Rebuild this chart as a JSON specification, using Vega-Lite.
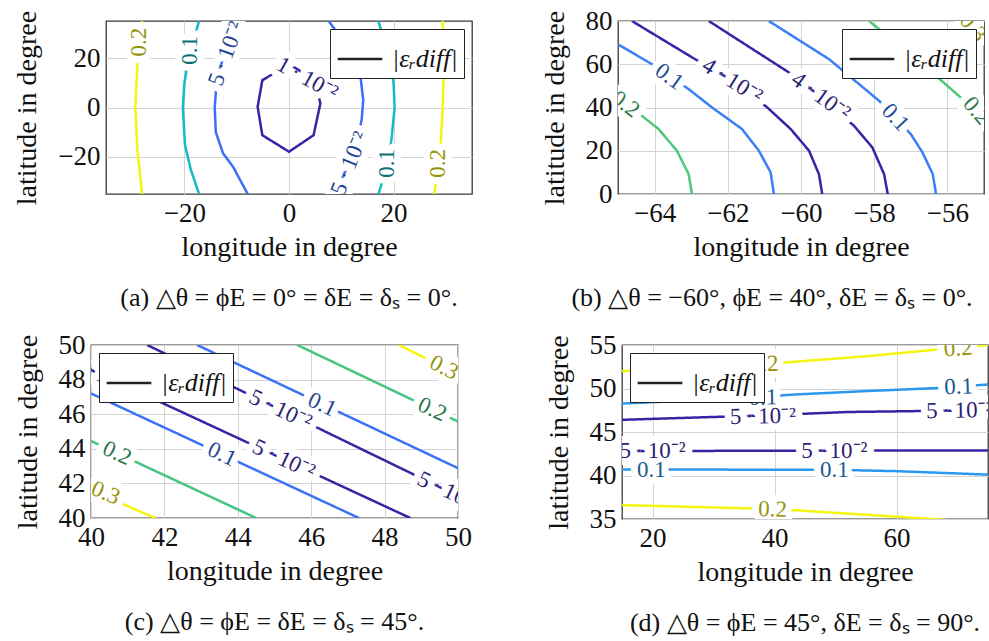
{
  "$schema": "https://vega.github.io/schema/vega-lite/v6.json",
  "padding": {"left": 12, "top": 6, "right": 0, "bottom": 0},
  "config": {
    "font": "Liberation Serif",
    "view": {"stroke": "#3a3a3a", "strokeWidth": 1.3},
    "axis": {"labelFont": "Liberation Serif", "labelFontSize": 27, "labelColor": "#111", "titleFont": "Liberation Serif", "titleFontSize": 28, "titleFontWeight": "normal", "titleColor": "#111", "grid": true, "gridColor": "#d3d3d3", "gridWidth": 1, "domain": false, "ticks": false, "labelPadding": 6, "titlePadding": 8, "labelFlush": false, "labelOverlap": false},
    "axisX": {"labelPadding": 6, "titlePadding": 7},
    "axisY": {"titlePadding": 16, "labelOverlap": false},
    "title": {"font": "Liberation Serif", "fontSize": 26, "fontWeight": "normal", "color": "#111", "orient": "bottom", "anchor": "middle", "offset": 24},
    "legend": {"title": null, "symbolType": "stroke", "symbolStrokeColor": "#222", "symbolStrokeWidth": 2.5, "symbolSize": 2000, "labelFont": "Liberation Serif", "labelFontSize": 26, "labelFontStyle": "italic", "labelColor": "#111", "strokeColor": "#222", "fillColor": "white", "padding": 6, "labelOffset": 8, "offset": 8}
  },
  "datasets": {
    "a_lines": [
      {"line": "a1", "i": 0, "lon": -28.1, "lat": 35, "level": 0.2},
      {"line": "a1", "i": 1, "lon": -29.0, "lat": 17, "level": 0.2},
      {"line": "a1", "i": 2, "lon": -29.4, "lat": 0, "level": 0.2},
      {"line": "a1", "i": 3, "lon": -29.0, "lat": -17, "level": 0.2},
      {"line": "a1", "i": 4, "lon": -28.1, "lat": -35, "level": 0.2},
      {"line": "a2", "i": 0, "lon": 29.4, "lat": 35, "level": 0.2},
      {"line": "a2", "i": 1, "lon": 29.6, "lat": 15, "level": 0.2},
      {"line": "a2", "i": 2, "lon": 29.4, "lat": 0, "level": 0.2},
      {"line": "a2", "i": 3, "lon": 29.0, "lat": -15, "level": 0.2},
      {"line": "a2", "i": 4, "lon": 27.8, "lat": -35, "level": 0.2},
      {"line": "a3", "i": 0, "lon": -17.2, "lat": 35, "level": 0.1},
      {"line": "a3", "i": 1, "lon": -19.2, "lat": 20, "level": 0.1},
      {"line": "a3", "i": 2, "lon": -20.0, "lat": 10, "level": 0.1},
      {"line": "a3", "i": 3, "lon": -20.3, "lat": 0, "level": 0.1},
      {"line": "a3", "i": 4, "lon": -19.9, "lat": -15, "level": 0.1},
      {"line": "a3", "i": 5, "lon": -18.8, "lat": -25, "level": 0.1},
      {"line": "a3", "i": 6, "lon": -17.2, "lat": -35, "level": 0.1},
      {"line": "a4", "i": 0, "lon": 17.1, "lat": 35, "level": 0.1},
      {"line": "a4", "i": 1, "lon": 19.2, "lat": 20, "level": 0.1},
      {"line": "a4", "i": 2, "lon": 20.0, "lat": 10, "level": 0.1},
      {"line": "a4", "i": 3, "lon": 20.2, "lat": 0, "level": 0.1},
      {"line": "a4", "i": 4, "lon": 19.6, "lat": -13, "level": 0.1},
      {"line": "a4", "i": 5, "lon": 18.6, "lat": -25, "level": 0.1},
      {"line": "a4", "i": 6, "lon": 17.1, "lat": -35, "level": 0.1},
      {"line": "a5", "i": 0, "lon": -9.5, "lat": 35, "level": 0.05},
      {"line": "a5", "i": 1, "lon": -12.0, "lat": 24, "level": 0.05},
      {"line": "a5", "i": 2, "lon": -13.8, "lat": 12, "level": 0.05},
      {"line": "a5", "i": 3, "lon": -14.2, "lat": 0, "level": 0.05},
      {"line": "a5", "i": 4, "lon": -14.0, "lat": -10, "level": 0.05},
      {"line": "a5", "i": 5, "lon": -12.6, "lat": -18.6, "level": 0.05},
      {"line": "a5", "i": 6, "lon": -10.7, "lat": -24, "level": 0.05},
      {"line": "a5", "i": 7, "lon": -7.9, "lat": -35, "level": 0.05},
      {"line": "a6", "i": 0, "lon": 7.6, "lat": 35, "level": 0.05},
      {"line": "a6", "i": 1, "lon": 11.0, "lat": 25, "level": 0.05},
      {"line": "a6", "i": 2, "lon": 13.6, "lat": 13.7, "level": 0.05},
      {"line": "a6", "i": 3, "lon": 14.2, "lat": 3, "level": 0.05},
      {"line": "a6", "i": 4, "lon": 13.9, "lat": -5, "level": 0.05},
      {"line": "a6", "i": 5, "lon": 12.5, "lat": -18, "level": 0.05},
      {"line": "a6", "i": 6, "lon": 10.5, "lat": -27, "level": 0.05},
      {"line": "a6", "i": 7, "lon": 9.0, "lat": -35, "level": 0.05},
      {"line": "a7", "i": 0, "lon": 0, "lat": 17.6, "level": 0.01},
      {"line": "a7", "i": 1, "lon": -5.1, "lat": 11, "level": 0.01},
      {"line": "a7", "i": 2, "lon": -6.0, "lat": 0.3, "level": 0.01},
      {"line": "a7", "i": 3, "lon": -5.1, "lat": -11.2, "level": 0.01},
      {"line": "a7", "i": 4, "lon": 0, "lat": -17.9, "level": 0.01},
      {"line": "a7", "i": 5, "lon": 4.7, "lat": -11.2, "level": 0.01},
      {"line": "a7", "i": 6, "lon": 6.0, "lat": 1.6, "level": 0.01},
      {"line": "a7", "i": 7, "lon": 5.0, "lat": 11, "level": 0.01},
      {"line": "a7", "i": 8, "lon": 0, "lat": 17.6, "level": 0.01}
    ],
    "a_labels": [
      {"lon": -28.6, "lat": 26.5, "text": "0.2", "angle": -90, "level": 0.2},
      {"lon": 28.5, "lat": -22.6, "text": "0.2", "angle": -90, "level": 0.2},
      {"lon": -18.9, "lat": 23.1, "text": "0.1", "angle": -90, "level": 0.1},
      {"lon": 18.8, "lat": -22.6, "text": "0.1", "angle": -90, "level": 0.1},
      {"lon": -12.0, "lat": 21.8, "text": "5\u2009·\u200910⁻²", "angle": -70, "level": 0.05},
      {"lon": 11.6, "lat": -22.6, "text": "5\u2009·\u200910⁻²", "angle": -68, "level": 0.05},
      {"lon": 3.5, "lat": 11.7, "text": "1\u2009·\u200910⁻²", "angle": 29, "level": 0.01}
    ],
    "b_lines": [
      {"line": "b1", "i": 0, "lon": -65, "lat": 44.6, "level": 0.2},
      {"line": "b1", "i": 1, "lon": -64.35, "lat": 36.2, "level": 0.2},
      {"line": "b1", "i": 2, "lon": -63.89, "lat": 30, "level": 0.2},
      {"line": "b1", "i": 3, "lon": -63.39, "lat": 20, "level": 0.2},
      {"line": "b1", "i": 4, "lon": -63.07, "lat": 9.2, "level": 0.2},
      {"line": "b1", "i": 5, "lon": -62.98, "lat": 0, "level": 0.2},
      {"line": "b2", "i": 0, "lon": -58.14, "lat": 80, "level": 0.2},
      {"line": "b2", "i": 1, "lon": -57.2, "lat": 67, "level": 0.2},
      {"line": "b2", "i": 2, "lon": -56.31, "lat": 54.6, "level": 0.2},
      {"line": "b2", "i": 3, "lon": -55.58, "lat": 43.8, "level": 0.2},
      {"line": "b2", "i": 4, "lon": -55.0, "lat": 36.5, "level": 0.2},
      {"line": "b3", "i": 0, "lon": -65, "lat": 69.2, "level": 0.1},
      {"line": "b3", "i": 1, "lon": -64.07, "lat": 60, "level": 0.1},
      {"line": "b3", "i": 2, "lon": -63.07, "lat": 48.5, "level": 0.1},
      {"line": "b3", "i": 3, "lon": -62.43, "lat": 40, "level": 0.1},
      {"line": "b3", "i": 4, "lon": -61.61, "lat": 30, "level": 0.1},
      {"line": "b3", "i": 5, "lon": -61.15, "lat": 20, "level": 0.1},
      {"line": "b3", "i": 6, "lon": -60.83, "lat": 10, "level": 0.1},
      {"line": "b3", "i": 7, "lon": -60.74, "lat": 0, "level": 0.1},
      {"line": "b4", "i": 0, "lon": -60.88, "lat": 80, "level": 0.1},
      {"line": "b4", "i": 1, "lon": -59.23, "lat": 62.3, "level": 0.1},
      {"line": "b4", "i": 2, "lon": -57.86, "lat": 43, "level": 0.1},
      {"line": "b4", "i": 3, "lon": -57.0, "lat": 27.7, "level": 0.1},
      {"line": "b4", "i": 4, "lon": -56.68, "lat": 19.2, "level": 0.1},
      {"line": "b4", "i": 5, "lon": -56.4, "lat": 9.2, "level": 0.1},
      {"line": "b4", "i": 6, "lon": -56.31, "lat": 0, "level": 0.1},
      {"line": "b5", "i": 0, "lon": -64.62, "lat": 80, "level": 0.04},
      {"line": "b5", "i": 1, "lon": -62.89, "lat": 62.3, "level": 0.04},
      {"line": "b5", "i": 2, "lon": -61.88, "lat": 52.5, "level": 0.04},
      {"line": "b5", "i": 3, "lon": -60.92, "lat": 40, "level": 0.04},
      {"line": "b5", "i": 4, "lon": -60.28, "lat": 30, "level": 0.04},
      {"line": "b5", "i": 5, "lon": -59.78, "lat": 20, "level": 0.04},
      {"line": "b5", "i": 6, "lon": -59.51, "lat": 9.2, "level": 0.04},
      {"line": "b5", "i": 7, "lon": -59.42, "lat": 0, "level": 0.04},
      {"line": "b6", "i": 0, "lon": -62.52, "lat": 80, "level": 0.04},
      {"line": "b6", "i": 1, "lon": -60.33, "lat": 56.2, "level": 0.04},
      {"line": "b6", "i": 2, "lon": -59.46, "lat": 45, "level": 0.04},
      {"line": "b6", "i": 3, "lon": -58.55, "lat": 31.5, "level": 0.04},
      {"line": "b6", "i": 4, "lon": -58.05, "lat": 21.5, "level": 0.04},
      {"line": "b6", "i": 5, "lon": -57.73, "lat": 9.2, "level": 0.04},
      {"line": "b6", "i": 6, "lon": -57.63, "lat": 0, "level": 0.04},
      {"line": "b7", "i": 0, "lon": -55.6, "lat": 80, "level": 0.3},
      {"line": "b7", "i": 1, "lon": -55.0, "lat": 74, "level": 0.3}
    ],
    "b_labels": [
      {"lon": -64.8, "lat": 41.5, "text": "0.2", "angle": 37, "level": 0.2},
      {"lon": -55.2, "lat": 38.5, "text": "0.2", "angle": 50, "level": 0.2},
      {"lon": -55.3, "lat": 77, "text": "0.3", "angle": 50, "level": 0.3},
      {"lon": -63.6, "lat": 54.3, "text": "0.1", "angle": 36, "level": 0.1},
      {"lon": -57.42, "lat": 35.4, "text": "0.1", "angle": 47, "level": 0.1},
      {"lon": -61.88, "lat": 52.3, "text": "4\u2009·\u200910⁻²", "angle": 32, "level": 0.04},
      {"lon": -59.46, "lat": 45.2, "text": "4\u2009·\u200910⁻²", "angle": 36, "level": 0.04}
    ],
    "c_lines": [
      {"line": "c1", "i": 0, "lon": 40, "lat": 41.6, "level": 0.3},
      {"line": "c1", "i": 1, "lon": 41.75, "lat": 40, "level": 0.3},
      {"line": "c2", "i": 0, "lon": 40, "lat": 44.45, "level": 0.2},
      {"line": "c2", "i": 1, "lon": 44.5, "lat": 40, "level": 0.2},
      {"line": "c3", "i": 0, "lon": 40, "lat": 47.2, "level": 0.1},
      {"line": "c3", "i": 1, "lon": 47.3, "lat": 40, "level": 0.1},
      {"line": "c4", "i": 0, "lon": 40, "lat": 48.56, "level": 0.05},
      {"line": "c4", "i": 1, "lon": 48.7, "lat": 40, "level": 0.05},
      {"line": "c5", "i": 0, "lon": 41.53, "lat": 50, "level": 0.05},
      {"line": "c5", "i": 1, "lon": 50, "lat": 41.27, "level": 0.05},
      {"line": "c6", "i": 0, "lon": 42.89, "lat": 50, "level": 0.1},
      {"line": "c6", "i": 1, "lon": 50, "lat": 42.88, "level": 0.1},
      {"line": "c7", "i": 0, "lon": 45.62, "lat": 50, "level": 0.2},
      {"line": "c7", "i": 1, "lon": 50, "lat": 45.58, "level": 0.2},
      {"line": "c8", "i": 0, "lon": 48.39, "lat": 50, "level": 0.3},
      {"line": "c8", "i": 1, "lon": 50, "lat": 48.3, "level": 0.3}
    ],
    "c_labels": [
      {"lon": 40.4, "lat": 41.45, "text": "0.3", "angle": 23, "level": 0.3},
      {"lon": 40.71, "lat": 43.75, "text": "0.2", "angle": 25, "level": 0.2},
      {"lon": 43.57, "lat": 43.68, "text": "0.1", "angle": 25, "level": 0.1},
      {"lon": 40.3, "lat": 48.26, "text": "5\u2009·\u200910⁻²", "angle": 25, "level": 0.05},
      {"lon": 45.25, "lat": 43.39, "text": "5\u2009·\u200910⁻²", "angle": 25, "level": 0.05},
      {"lon": 45.16, "lat": 46.26, "text": "5\u2009·\u200910⁻²", "angle": 25, "level": 0.05},
      {"lon": 49.75, "lat": 41.53, "text": "5\u2009·\u200910⁻²", "angle": 25, "level": 0.05},
      {"lon": 46.3, "lat": 46.55, "text": "0.1", "angle": 25, "level": 0.1},
      {"lon": 49.3, "lat": 46.28, "text": "0.2", "angle": 25, "level": 0.2},
      {"lon": 49.62, "lat": 48.7, "text": "0.3", "angle": 27, "level": 0.3}
    ],
    "d_lines": [
      {"line": "d1", "i": 0, "lon": 15, "lat": 52.0, "level": 0.2},
      {"line": "d1", "i": 1, "lon": 30, "lat": 52.5, "level": 0.2},
      {"line": "d1", "i": 2, "lon": 40, "lat": 52.9, "level": 0.2},
      {"line": "d1", "i": 3, "lon": 55, "lat": 53.7, "level": 0.2},
      {"line": "d1", "i": 4, "lon": 67, "lat": 54.5, "level": 0.2},
      {"line": "d1", "i": 5, "lon": 75, "lat": 55.0, "level": 0.2},
      {"line": "d2", "i": 0, "lon": 15, "lat": 48.27, "level": 0.1},
      {"line": "d2", "i": 1, "lon": 35.4, "lat": 48.9, "level": 0.1},
      {"line": "d2", "i": 2, "lon": 43, "lat": 49.3, "level": 0.1},
      {"line": "d2", "i": 3, "lon": 55, "lat": 49.7, "level": 0.1},
      {"line": "d2", "i": 4, "lon": 67.5, "lat": 50.08, "level": 0.1},
      {"line": "d2", "i": 5, "lon": 75, "lat": 50.46, "level": 0.1},
      {"line": "d3", "i": 0, "lon": 15, "lat": 46.4, "level": 0.05},
      {"line": "d3", "i": 1, "lon": 38, "lat": 46.9, "level": 0.05},
      {"line": "d3", "i": 2, "lon": 52, "lat": 47.3, "level": 0.05},
      {"line": "d3", "i": 3, "lon": 63, "lat": 47.4, "level": 0.05},
      {"line": "d3", "i": 4, "lon": 75, "lat": 47.5, "level": 0.05},
      {"line": "d4", "i": 0, "lon": 15, "lat": 42.8, "level": 0.05},
      {"line": "d4", "i": 1, "lon": 40, "lat": 42.85, "level": 0.05},
      {"line": "d4", "i": 2, "lon": 75, "lat": 42.88, "level": 0.05},
      {"line": "d5", "i": 0, "lon": 15, "lat": 40.7, "level": 0.1},
      {"line": "d5", "i": 1, "lon": 50, "lat": 40.65, "level": 0.1},
      {"line": "d5", "i": 2, "lon": 60, "lat": 40.5, "level": 0.1},
      {"line": "d5", "i": 3, "lon": 75, "lat": 40.1, "level": 0.1},
      {"line": "d6", "i": 0, "lon": 15, "lat": 36.6, "level": 0.2},
      {"line": "d6", "i": 1, "lon": 37, "lat": 36.2, "level": 0.2},
      {"line": "d6", "i": 2, "lon": 43.5, "lat": 36.0, "level": 0.2},
      {"line": "d6", "i": 3, "lon": 66, "lat": 35.0, "level": 0.2},
      {"line": "d6", "i": 4, "lon": 75, "lat": 34.5, "level": 0.2}
    ],
    "d_labels": [
      {"lon": 38.3, "lat": 52.8, "text": "0.2", "angle": -2, "level": 0.2},
      {"lon": 70.1, "lat": 54.6, "text": "0.2", "angle": -4, "level": 0.2},
      {"lon": 38.1, "lat": 48.95, "text": "0.1", "angle": -1, "level": 0.1},
      {"lon": 70.2, "lat": 50.2, "text": "0.1", "angle": -2, "level": 0.1},
      {"lon": 38.1, "lat": 46.8, "text": "5\u2009·\u200910⁻²", "angle": -1, "level": 0.05},
      {"lon": 70.3, "lat": 47.45, "text": "5\u2009·\u200910⁻²", "angle": -1, "level": 0.05},
      {"lon": 20.0, "lat": 42.82, "text": "5\u2009·\u200910⁻²", "angle": 0, "level": 0.05},
      {"lon": 49.8, "lat": 42.85, "text": "5\u2009·\u200910⁻²", "angle": 0, "level": 0.05},
      {"lon": 19.8, "lat": 40.68, "text": "0.1", "angle": 0, "level": 0.1},
      {"lon": 49.8, "lat": 40.65, "text": "0.1", "angle": 0, "level": 0.1},
      {"lon": 39.7, "lat": 36.1, "text": "0.2", "angle": 2, "level": 0.2}
    ]
  },
  "spacing": 18,
  "resolve": {"scale": {"strokeDash": "independent"}, "legend": {"strokeDash": "independent"}},
  "vconcat": [
    {
      "spacing": 0,
      "resolve": {"scale": {"strokeDash": "independent"}, "legend": {"strokeDash": "independent"}},
      "hconcat": [
        {"width": 1, "height": 1, "data": {"values": []}, "mark": "point", "view": {"stroke": null}},
        {
          "spacing": 67,
          "resolve": {"scale": {"strokeDash": "independent"}, "legend": {"strokeDash": "independent"}},
          "hconcat": [
            {
              "width": 366, "height": 173,
              "title": {"text": "(a) △θ = ϕE = 0° = δE = δₛ = 0°."},
              "encoding": {
                "x": {"field": "lon", "type": "quantitative", "scale": {"domain": [-35, 35], "nice": false, "zero": false}, "axis": {"values": [-20, 0, 20], "title": "longitude in degree", "labelOverlap": false}},
                "y": {"field": "lat", "type": "quantitative", "scale": {"domain": [-35, 35], "nice": false, "zero": false}, "axis": {"values": [-20, 0, 20], "title": "latitude in degree", "labelOverlap": false}}
              },
              "layer": [
                {"data": {"name": "a_lines"}, "mark": {"type": "line", "strokeWidth": 2.5, "clip": true},
                 "encoding": {
                   "detail": {"field": "line", "type": "nominal"},
                   "order": {"field": "i", "type": "quantitative"},
                   "color": {"field": "level", "type": "nominal", "scale": {"domain": [0.01, 0.05, 0.1, 0.2], "range": ["#3a22a6", "#3d6ef7", "#14bbc6", "#f5f50f"]}, "legend": null},
                   "strokeDash": {"datum": "|εᵣdiff|", "scale": {"range": [[1, 0]]}, "legend": {"orient": "top-right"}}
                 }},
                {"data": {"name": "a_labels"}, "mark": {"type": "text", "clip": true, "fontSize": 23, "fill": "white", "stroke": "white", "strokeWidth": 14, "strokeJoin": "round"},
                 "encoding": {"text": {"field": "text"}, "angle": {"field": "angle", "type": "quantitative", "scale": null}}},
                {"data": {"name": "a_labels"}, "mark": {"type": "text", "clip": true, "fontSize": 23},
                 "encoding": {"text": {"field": "text"}, "angle": {"field": "angle", "type": "quantitative", "scale": null},
                   "color": {"field": "level", "type": "nominal", "scale": {"domain": [0.01, 0.05, 0.1, 0.2], "range": ["#2a1f75", "#254294", "#0c7077", "#959509"]}, "legend": null}}}
              ],
              "resolve": {"scale": {"color": "independent"}}
            },
            {
              "width": 366, "height": 173,
              "title": {"text": "(b) △θ = −60°, ϕE = 40°, δE = δₛ = 0°.", "dx": -29},
              "encoding": {
                "x": {"field": "lon", "type": "quantitative", "scale": {"domain": [-65, -55], "nice": false, "zero": false}, "axis": {"values": [-64, -62, -60, -58, -56], "title": "longitude in degree", "labelOverlap": false}},
                "y": {"field": "lat", "type": "quantitative", "scale": {"domain": [0, 80], "nice": false, "zero": false}, "axis": {"values": [0, 20, 40, 60, 80], "title": "latitude in degree", "labelOverlap": false}}
              },
              "layer": [
                {"data": {"name": "b_lines"}, "mark": {"type": "line", "strokeWidth": 2.5, "clip": true},
                 "encoding": {
                   "detail": {"field": "line", "type": "nominal"},
                   "order": {"field": "i", "type": "quantitative"},
                   "color": {"field": "level", "type": "nominal", "scale": {"domain": [0.04, 0.1, 0.2, 0.3], "range": ["#3a22a6", "#3a7ff8", "#4fc87a", "#f5f50f"]}, "legend": null},
                   "strokeDash": {"datum": "|εᵣdiff|", "scale": {"range": [[1, 0]]}, "legend": {"orient": "top-right"}}
                 }},
                {"data": {"name": "b_labels"}, "mark": {"type": "text", "clip": true, "fontSize": 23, "fill": "white", "stroke": "white", "strokeWidth": 14, "strokeJoin": "round"},
                 "encoding": {"text": {"field": "text"}, "angle": {"field": "angle", "type": "quantitative", "scale": null}}},
                {"data": {"name": "b_labels"}, "mark": {"type": "text", "clip": true, "fontSize": 23},
                 "encoding": {"text": {"field": "text"}, "angle": {"field": "angle", "type": "quantitative", "scale": null},
                   "color": {"field": "level", "type": "nominal", "scale": {"domain": [0.04, 0.1, 0.2, 0.3], "range": ["#2a1f75", "#234c95", "#2f7849", "#959509"]}, "legend": null}}}
              ],
              "resolve": {"scale": {"color": "independent"}}
            }
          ]
        }
      ]
    },
    {
      "spacing": 0,
      "resolve": {"scale": {"strokeDash": "independent"}, "legend": {"strokeDash": "independent"}},
      "hconcat": [
        {"width": 1, "height": 1, "data": {"values": []}, "mark": "point", "view": {"stroke": null}},
        {
          "spacing": 71,
          "resolve": {"scale": {"strokeDash": "independent"}, "legend": {"strokeDash": "independent"}},
          "hconcat": [
            {
              "width": 367, "height": 173,
              "title": {"text": "(c) △θ = ϕE = δE = δₛ = 45°."},
              "encoding": {
                "x": {"field": "lon", "type": "quantitative", "scale": {"domain": [40, 50], "nice": false, "zero": false}, "axis": {"values": [40, 42, 44, 46, 48, 50], "title": "longitude in degree", "labelOverlap": false}},
                "y": {"field": "lat", "type": "quantitative", "scale": {"domain": [40, 50], "nice": false, "zero": false}, "axis": {"values": [40, 42, 44, 46, 48, 50], "title": "latitude in degree", "labelOverlap": false}}
              },
              "layer": [
                {"data": {"name": "c_lines"}, "mark": {"type": "line", "strokeWidth": 2.5, "clip": true},
                 "encoding": {
                   "detail": {"field": "line", "type": "nominal"},
                   "order": {"field": "i", "type": "quantitative"},
                   "color": {"field": "level", "type": "nominal", "scale": {"domain": [0.05, 0.1, 0.2, 0.3], "range": ["#3a22a6", "#3d72f6", "#45c580", "#f5f50f"]}, "legend": null},
                   "strokeDash": {"datum": "|εᵣdiff|", "scale": {"range": [[1, 0]]}, "legend": {"orient": "top-left"}}
                 }},
                {"data": {"name": "c_labels"}, "mark": {"type": "text", "clip": true, "fontSize": 23, "fill": "white", "stroke": "white", "strokeWidth": 14, "strokeJoin": "round"},
                 "encoding": {"text": {"field": "text"}, "angle": {"field": "angle", "type": "quantitative", "scale": null}}},
                {"data": {"name": "c_labels"}, "mark": {"type": "text", "clip": true, "fontSize": 23},
                 "encoding": {"text": {"field": "text"}, "angle": {"field": "angle", "type": "quantitative", "scale": null},
                   "color": {"field": "level", "type": "nominal", "scale": {"domain": [0.05, 0.1, 0.2, 0.3], "range": ["#2a1f75", "#254494", "#29764d", "#959509"]}, "legend": null}}}
              ],
              "resolve": {"scale": {"color": "independent"}}
            },
            {
              "width": 366, "height": 174,
              "title": {"text": "(d) △θ = ϕE = 45°, δE = δₛ = 90°."},
              "encoding": {
                "x": {"field": "lon", "type": "quantitative", "scale": {"domain": [15, 75], "nice": false, "zero": false}, "axis": {"values": [20, 40, 60], "title": "longitude in degree", "labelOverlap": false}},
                "y": {"field": "lat", "type": "quantitative", "scale": {"domain": [35, 55], "nice": false, "zero": false}, "axis": {"values": [35, 40, 45, 50, 55], "title": "latitude in degree", "labelOverlap": false}}
              },
              "layer": [
                {"data": {"name": "d_lines"}, "mark": {"type": "line", "strokeWidth": 2.5, "clip": true},
                 "encoding": {
                   "detail": {"field": "line", "type": "nominal"},
                   "order": {"field": "i", "type": "quantitative"},
                   "color": {"field": "level", "type": "nominal", "scale": {"domain": [0.05, 0.1, 0.2], "range": ["#3a22a6", "#2a98ee", "#f5f50f"]}, "legend": null},
                   "strokeDash": {"datum": "|εᵣdiff|", "scale": {"range": [[1, 0]]}, "legend": {"orient": "top-left"}}
                 }},
                {"data": {"name": "d_labels"}, "mark": {"type": "text", "clip": true, "fontSize": 23, "fill": "white", "stroke": "white", "strokeWidth": 14, "strokeJoin": "round"},
                 "encoding": {"text": {"field": "text"}, "angle": {"field": "angle", "type": "quantitative", "scale": null}}},
                {"data": {"name": "d_labels"}, "mark": {"type": "text", "clip": true, "fontSize": 23},
                 "encoding": {"text": {"field": "text"}, "angle": {"field": "angle", "type": "quantitative", "scale": null},
                   "color": {"field": "level", "type": "nominal", "scale": {"domain": [0.05, 0.1, 0.2], "range": ["#2a1f75", "#195b8f", "#959509"]}, "legend": null}}}
              ],
              "resolve": {"scale": {"color": "independent"}}
            }
          ]
        }
      ]
    }
  ]
}
